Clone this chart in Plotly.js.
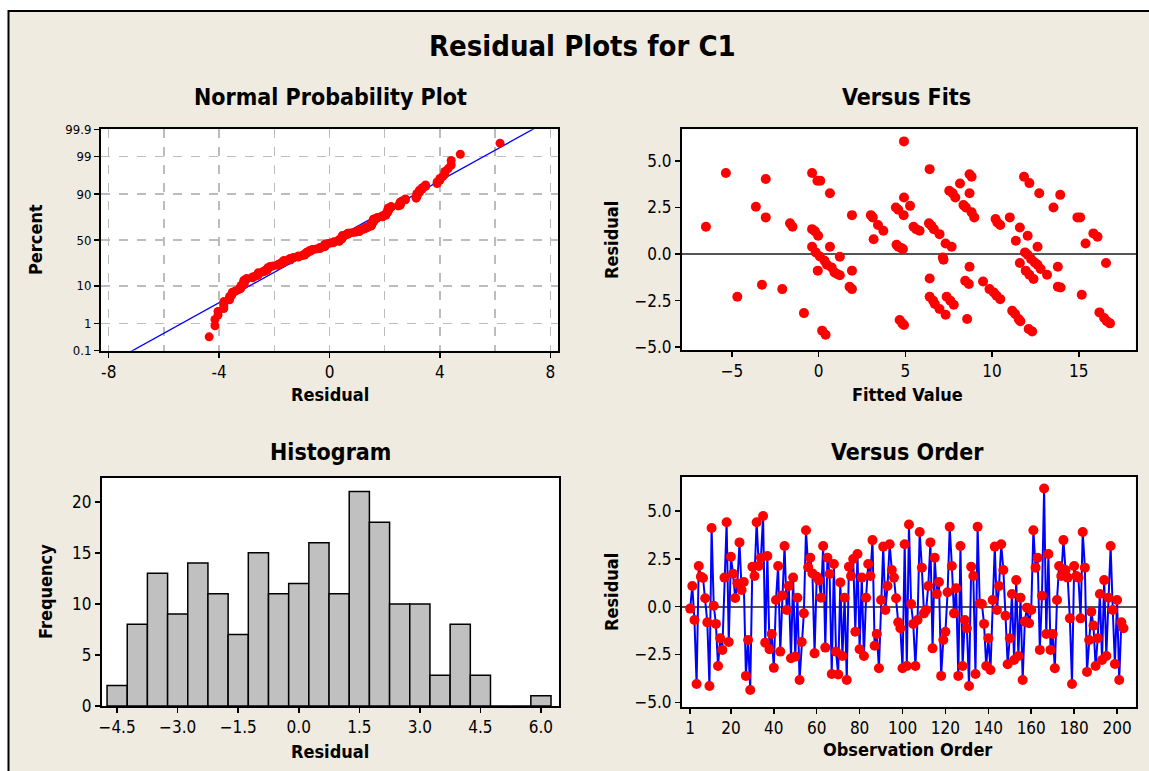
<!DOCTYPE html>
<html><head><meta charset="utf-8">
<script src="https://cdn.plot.ly/plotly-3.0.1.min.js"></script>
<style>html,body{margin:0;padding:0;background:#fff}#chart{width:1149px;height:771px}</style>
</head><body><div id="chart"></div>
<script>
// Residuals in observation order (read from "Versus Order")
const residuals = [-0.1,1.08,-0.7,-4.04,2.13,1.57,1.5,0.44,-0.82,-4.15,
4.11,0.05,-0.9,-3.1,-1.65,-2.26,1.52,4.41,-1.85,2.61,
1.72,0.45,1.22,3.36,0.87,1.29,-3.62,-1.74,-4.36,2.09,
1.6,4.41,2.13,2.56,4.74,-1.88,2.65,-2.23,-1.43,-3.2,
0.35,2.13,-2.35,0.59,3.17,-0.17,1.08,-2.7,1.52,-2.61,
0.47,-3.83,-1.85,-0.35,4.0,2.06,2.56,1.74,-2.44,1.57,
1.39,0.47,3.17,-2.14,2.56,1.71,-3.52,2.23,-2.35,-3.54,
1.27,-2.58,0.47,-3.83,2.09,1.6,2.49,-1.31,2.75,-2.23,
1.52,-2.58,0.47,2.23,1.6,3.48,-2.04,-1.43,-3.22,0.35,
3.14,-0.17,1.08,3.26,1.92,1.52,0.44,-0.82,-1.13,-3.22,
3.26,-3.1,4.3,0.14,-0.9,-3.1,-0.7,3.9,2.04,-0.35,
-0.17,1.08,3.36,-2.18,2.56,0.66,1.29,-3.62,-1.74,-1.31,
0.75,4.18,2.13,-0.35,0.96,-3.62,3.17,-3.1,-0.7,-1.13,
-4.15,2.09,1.6,-3.52,4.18,0.17,0.14,-0.9,-3.1,-1.65,
-3.31,0.35,3.14,-0.17,1.08,3.26,1.92,-0.47,-3.01,-1.65,
0.66,-2.79,1.39,-2.58,0.47,-3.83,-0.78,-0.05,-0.87,-0.17,
4.0,2.04,2.56,-2.26,0.57,6.18,-1.43,2.75,-2.26,-1.43,
-3.22,0.35,2.13,1.6,3.48,1.92,1.52,-0.61,-4.04,2.13,
1.6,1.52,-0.61,3.9,2.04,-3.41,-1.74,-0.26,-0.99,-3.1,
-1.65,0.66,-2.79,1.39,-2.58,0.47,3.17,-0.17,-3.0,0.35,
-3.83,-0.82,-1.13];

// Versus Fits points
const fitsFitted = [-6.5,-5.35,-4.69,-3.62,-3.05,-3.05,-3.27,-2.1,-1.65,-1.51,
-0.85,-0.38,-0.07,0.09,0.65,-0.38,-0.21,-0.03,-0.38,-0.17,
0.07,0.34,0.48,0.75,0.91,1.06,1.22,-0.05,0.65,1.22,
0.2,0.4,1.92,1.92,1.78,1.92,3.01,3.12,3.42,3.73,
3.17,4.45,4.59,4.92,4.92,4.9,5.27,4.49,4.59,4.76,
4.86,4.67,4.82,4.92,5.47,5.62,5.82,6.4,6.36,6.5,
6.64,6.97,7.32,7.67,7.16,7.2,6.4,6.4,6.6,6.7,
6.97,7.32,7.38,7.59,7.79,7.53,7.73,7.88,8.15,8.35,
8.49,8.7,8.82,8.7,8.82,8.97,8.7,8.45,8.66,8.56,
9.48,9.85,10.1,10.26,10.47,10.2,10.3,10.47,11.02,11.16,
11.33,11.53,11.63,11.37,11.6,11.6,11.84,12.15,12.05,11.9,
12.05,12.25,12.46,12.62,12.8,13.17,11.94,12.15,12.39,12.11,
12.31,12.62,12.72,13.54,13.79,13.79,13.95,13.93,14.92,15.08,
15.39,15.17,15.84,16.08,16.57,16.19,16.46,16.62,16.8];
const fitsResidual = [1.47,4.35,-2.29,2.54,4.03,1.97,-1.65,-1.88,1.65,1.47,
-3.17,4.35,3.94,3.94,3.27,1.34,1.22,0.98,0.39,0.09,
-0.13,-0.36,-0.57,-0.72,-0.98,-1.07,-1.14,-0.89,0.39,-0.14,
-4.11,-4.33,2.09,-0.89,-1.75,-1.88,2.09,1.97,1.56,1.25,
0.8,2.5,2.38,3.04,6.05,2.09,2.59,0.5,0.39,0.32,
0.27,-3.54,-3.72,-3.81,1.47,1.34,1.25,4.56,1.65,1.52,
1.34,1.07,0.57,0.39,-0.18,-0.3,-1.31,-2.29,-2.5,-2.68,
-2.95,-3.26,-2.29,-2.5,-2.72,3.4,3.26,3.04,3.79,2.63,
2.5,4.29,4.15,3.27,2.24,1.97,-0.68,-1.43,-1.61,-3.49,
-1.47,-1.88,-2.06,-2.24,-2.42,1.88,1.7,1.56,1.97,-3.04,
-3.22,-3.49,-3.61,0.72,1.43,-0.48,4.15,3.81,0.98,0.09,
-0.04,-0.27,-0.45,-0.57,-0.8,-1.11,-0.89,-1.11,-1.34,-4.02,
-4.15,0.39,3.27,2.5,-0.68,-1.75,-1.79,3.18,1.97,1.97,
0.57,-2.18,1.11,0.93,-0.48,-3.13,-3.43,-3.61,-3.72];

// Histogram
const histCenters = [-4.5,-4.0,-3.5,-3.0,-2.5,-2.0,-1.5,-1.0,-0.5,0.0,0.5,1.0,1.5,2.0,2.5,3.0,3.5,4.0,4.5,5.0,5.5,6.0];
const histCounts = [2,8,13,9,14,11,7,15,11,12,16,11,21,18,10,10,3,8,3,0,0,1];

// Tick labels
const probTickPercents = [0.1,1,10,50,90,99,99.9];
const probTickLabels = ['0.1','1','10','50','90','99','99.9'];
const normXTicks = [-8,-4,0,4,8];
const normXMinor = [-6,-2,2,6];
const fitsXTicks = [-5,0,5,10,15];
const residTicks = [-5,-2.5,0,2.5,5];
const histXTicks = [-4.5,-3.0,-1.5,0.0,1.5,3.0,4.5,6.0];
const histYTicks = [0,5,10,15,20];
const orderTicks = [1,20,40,60,80,100,120,140,160,180,200];

function invNorm(p){
 const a=[-3.969683028665376e+01,2.209460984245205e+02,-2.759285104469687e+02,1.383577518672690e+02,-3.066479806614716e+01,2.506628277459239e+00];
 const b=[-5.447609879822406e+01,1.615858368580409e+02,-1.556989798598866e+02,6.680131188771972e+01,-1.328068155288572e+01];
 const c=[-7.784894002430293e-03,-3.223964580411365e-01,-2.400758277161838e+00,-2.549732539343734e+00,4.374664141464968e+00,2.938163982698783e+00];
 const d=[7.784695709041462e-03,3.224671290700398e-01,2.445134137142996e+00,3.754408661907416e+00];
 const pl=0.02425, ph=1-pl; let q,r;
 if(p<pl){q=Math.sqrt(-2*Math.log(p));return (((((c[0]*q+c[1])*q+c[2])*q+c[3])*q+c[4])*q+c[5])/((((d[0]*q+d[1])*q+d[2])*q+d[3])*q+1);}
 if(p<=ph){q=p-0.5;r=q*q;return (((((a[0]*r+a[1])*r+a[2])*r+a[3])*r+a[4])*r+a[5])*q/(((((b[0]*r+b[1])*r+b[2])*r+b[3])*r+b[4])*r+1);}
 q=Math.sqrt(-2*Math.log(1-p));return -(((((c[0]*q+c[1])*q+c[2])*q+c[3])*q+c[4])*q+c[5])/((((d[0]*q+d[1])*q+d[2])*q+d[3])*q+1);
}

// Normal probability computations (median ranks)
const n = residuals.length;
const sorted = residuals.slice().sort((a,b)=>a-b);
const probZ = sorted.map((v,i)=>invNorm((i+1-0.3)/(n+0.4)));
const mean = residuals.reduce((s,v)=>s+v,0)/n;
const sd = Math.sqrt(residuals.reduce((s,v)=>s+(v-mean)*(v-mean),0)/(n-1));
const zLo = invNorm(0.001), zHi = invNorm(0.999);
const lineZ = [zLo-0.3, zHi+0.3];
const lineX = lineZ.map(z=>mean+sd*z);
const orderIdx = residuals.map((v,i)=>i+1);

const W=1149,H=771;
const px = v=>v/W, py = v=>1-v/H;
const FONT = "'DejaVu Sans Condensed','DejaVu Sans',sans-serif";
const RED='#ff0000', BLUE='#0000ff';

const baseAxis = {showline:true, mirror:true, linecolor:'#000', linewidth:2, ticks:'outside', ticklen:5, tickwidth:1.5, tickcolor:'#000', showgrid:false, zeroline:false, tickfont:{size:17,color:'#000',family:FONT}, fixedrange:true};

const traces = [
 {type:'scatter', mode:'lines', x:lineX, y:lineZ, xaxis:'x', yaxis:'y', line:{color:BLUE,width:1.3}, hoverinfo:'skip'},
 {type:'scatter', mode:'markers', x:sorted, y:probZ, xaxis:'x', yaxis:'y', marker:{color:RED,size:9}},
 {type:'scatter', mode:'markers', x:fitsFitted, y:fitsResidual, xaxis:'x2', yaxis:'y2', marker:{color:RED,size:10}},
 {type:'bar', x:histCenters, y:histCounts, width:0.5, xaxis:'x3', yaxis:'y3', marker:{color:'#c0c0c0', line:{color:'#000',width:1.5}}},
 {type:'scatter', mode:'lines+markers', x:orderIdx, y:residuals, xaxis:'x4', yaxis:'y4', line:{color:BLUE,width:2}, marker:{color:RED,size:10}}
];

const gridStyle = {showgrid:true, griddash:'dash', gridcolor:'#bcbcbc', gridwidth:1.5};

const layout = {
 width:W, height:H, margin:{l:0,r:0,t:0,b:0},
 paper_bgcolor:'#efebe1', plot_bgcolor:'#ffffff',
 showlegend:false, hovermode:false, font:{family:FONT,color:'#000'},
 bargap:0,
 xaxis: Object.assign({}, baseAxis, gridStyle, {domain:[px(101),px(558)], anchor:'y', range:[-8.28,8.28], tickvals:normXTicks, ticktext:normXTicks.map(String),
   minor:{tickvals:normXMinor, showgrid:true, griddash:'dash', gridcolor:'#bcbcbc', gridwidth:1.5, ticks:''}}),
 yaxis: Object.assign({}, baseAxis, gridStyle, {domain:[py(350.7),py(129.3)], anchor:'x', range:[zLo,zHi], tickvals:probTickPercents.map(p=>invNorm(p/100)), ticktext:probTickLabels, tickfont:{size:13,color:'#000',family:FONT}}),
 xaxis2: Object.assign({}, baseAxis, {domain:[px(682),px(1135.5)], anchor:'y2', range:[-7.88,18.27], tickvals:fitsXTicks}),
 yaxis2: Object.assign({}, baseAxis, {domain:[py(350),py(129.3)], anchor:'x2', range:[-5.15,6.7], tickvals:residTicks, tickformat:'.1f', zeroline:true, zerolinecolor:'#555', zerolinewidth:2}),
 xaxis3: Object.assign({}, baseAxis, {domain:[px(101.8),px(558.7)], anchor:'y3', range:[-4.88,6.44], tickvals:histXTicks, tickformat:'.1f'}),
 yaxis3: Object.assign({}, baseAxis, {domain:[py(706),py(477.7)], anchor:'x3', range:[0,22.36], tickvals:histYTicks}),
 xaxis4: Object.assign({}, baseAxis, {domain:[px(682),px(1135.5)], anchor:'y4', range:[-2.8,208.6], tickvals:orderTicks}),
 yaxis4: Object.assign({}, baseAxis, {domain:[py(706.7),py(477)], anchor:'x4', range:[-5.23,6.78], tickvals:residTicks, tickformat:'.1f', zeroline:true, zerolinecolor:'#555', zerolinewidth:2}),
 shapes:[
  {type:'rect', xref:'paper', yref:'paper', x0:0, x1:1, y0:py(10), y1:1, fillcolor:'#fff', line:{width:0}, layer:'below'},
  {type:'rect', xref:'paper', yref:'paper', x0:0, x1:px(8), y0:0, y1:1, fillcolor:'#fff', line:{width:0}, layer:'below'},
  {type:'line', xref:'paper', yref:'paper', x0:px(8), x1:1, y0:py(11), y1:py(11), line:{color:'#000',width:2}},
  {type:'line', xref:'paper', yref:'paper', x0:px(8.5), x1:px(8.5), y0:0, y1:py(10), line:{color:'#000',width:2}}
 ],
 annotations:[]
};

function ann(text,x,y,size,rot){
 layout.annotations.push({text:'<b>'+text+'</b>', xref:'paper', yref:'paper', x:px(x), y:py(y), xanchor:'center', yanchor:'middle', showarrow:false, textangle:rot||0, font:{size:size,color:'#000',family:FONT}});
}
ann('Residual Plots for C1',582,46,29);
ann('Normal Probability Plot',330,97,23);
ann('Versus Fits',906,97,23);
ann('Histogram',330,452,23);
ann('Versus Order',907,452,23);
ann('Residual',330,395,18);
ann('Percent',35,240,18,-90);
ann('Fitted Value',907,395,18);
ann('Residual',611,240,18,-90);
ann('Residual',330,751,18);
ann('Frequency',45,592,18,-90);
ann('Observation Order',907,749,18);
ann('Residual',611,592,18,-90);

Plotly.newPlot('chart', traces, layout, {staticPlot:true, displayModeBar:false});
</script>
</body></html>
